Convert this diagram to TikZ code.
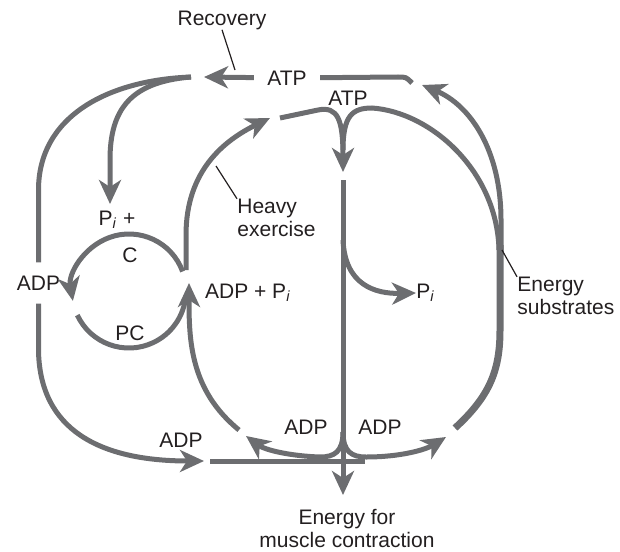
\documentclass[tikz,border=0pt]{standalone}
\usepackage{fontspec}
\setmainfont{Liberation Sans}
\usetikzlibrary{arrows.meta}
\definecolor{flowgray}{RGB}{108,109,112}
\definecolor{ink}{RGB}{35,31,32}

\begin{document}
\begin{tikzpicture}[x=0.5pt, y=-0.5pt, font=\fontsize{10.5}{11.5}\selectfont, text=ink,
	flow/.style={draw=flowgray, line width=2.5pt},
	flowtip/.style={flow, -{Stealth[length=12pt,width=11pt,inset=3.5pt]}},
	leader/.style={draw=ink, line width=0.6pt},
	lbl/.style={inner sep=0pt}]
\useasboundingbox (0,0) rectangle (620,551);

\node[lbl] (recov) at (222,20) {Recovery};
\node[inner xsep=6.5pt, inner ysep=0pt] (atptop) at (287,78) {ATP};
\node[lbl] (atpmid) at (348,98) {ATP};
\node[lbl] (pic) at (117,220) {P\textsubscript{\textit{i}} +};
\node[lbl] (c) at (130,255) {C};
\node[inner xsep=0pt, inner ysep=6.5pt] (adpout) at (38.5,283) {ADP};
\node[lbl] (pc) at (130,333) {PC};
\node[lbl] (adppi) at (248,293) {ADP + P\textsubscript{\textit{i}}};
\node[lbl, align=left, anchor=west] (heavy) at (237,218) {Heavy\\exercise};
\node[lbl, anchor=west] (pi) at (416,293) {P\textsubscript{\textit{i}}};
\node[lbl, align=left, anchor=west] (subs) at (517,296) {Energy\\substrates};
\node[lbl] (adpin) at (181,440) {ADP};
\node[lbl] (adpl) at (306,427) {ADP};
\node[lbl] (adpr) at (380,427) {ADP};
\node[lbl, align=center] (energy) at (347,528) {Energy for\\muscle contraction};

\coordinate (rectip) at (204,77);
\coordinate (fork) at (191,77);
\coordinate (topend) at (412,83);
\coordinate (pictip) at (110,204);
\coordinate (adpintip) at (204,461);
\coordinate (pcstart) at (182.6,271.5);
\coordinate (pcback) at (77.3,315.1);
\coordinate (heavytip) at (270,118);
\coordinate (ytip) at (343,172);
\coordinate (mainstart) at (343,180);
\coordinate (maintip) at (343,495);
\coordinate (split) at (343,432);
\coordinate (adpltip) at (246,436);
\coordinate (adprtip) at (446,437);
\coordinate (loopstart) at (239,430);
\coordinate (looptip) at (189,283);
\coordinate (subtip) at (422,85);
\coordinate (trunk) at (455,428);
\coordinate (recfoot) at (235,70);
\coordinate (heavyfoot) at (216,166);
\coordinate (subsfoot) at (502,250);

\draw[flow] (atptop) -- (398,77) .. controls (406,77) .. (topend);
\draw[flowtip] (atptop) -- (rectip);
\draw[flow] (fork) .. controls (110,80) and (38.5,115) .. (38.5,190) -- (adpout);
\draw[flowtip] (adpout) -- (38.5,350) .. controls (39.5,430) and (100,461) .. (adpintip);
\draw[flowtip] (fork) .. controls (130,82) and (110,110) .. (110,160) -- (pictip);

\draw[flowtip] (pcstart) arc[start angle=20, end angle=190, radius=28.5pt];
\draw[flow] (pcback) arc[start angle=205, end angle=355, radius=28.5pt];

\draw[flowtip] (186,270) -- (186,235) .. controls (186,170) and (225,140) .. (heavytip);
\draw[flowtip] (280,118) -- (318,110) .. controls (338,106) and (343,120) .. (ytip);
\draw[flow] (343,150) .. controls (343,116) and (352,108) .. (372,108) .. controls (430,112) and (497,170) .. (499,250);
\draw[flowtip] (501,255) -- (501,220) .. controls (501,150) and (470,105) .. (subtip);
\draw[flow, line width=3.5pt] (trunk) .. controls (490,396) and (500,370) .. (500,330) -- (500,245);

\draw[flowtip] (mainstart) -- (maintip);
\draw[flowtip] (343,240) .. controls (345,285) and (375,294) .. (pi.west);
\draw[flow] (210,461) -- (365,461);
\draw[flowtip] (split) .. controls (343,452) and (334,457) .. (320,457) .. controls (290,456) and (265,450) .. (adpltip);
\draw[flowtip] (split) .. controls (343,452) and (352,457) .. (366,457) .. controls (400,457) and (425,450) .. (adprtip);
\draw[flowtip] (loopstart) .. controls (190,390) and (189,340) .. (looptip);

\draw[leader] (recov.south) -- (recfoot);
\draw[leader] (heavyfoot) -- (heavy.north west);
\draw[leader] (subsfoot) -- (subs.north west);
\end{tikzpicture}
\end{document}
